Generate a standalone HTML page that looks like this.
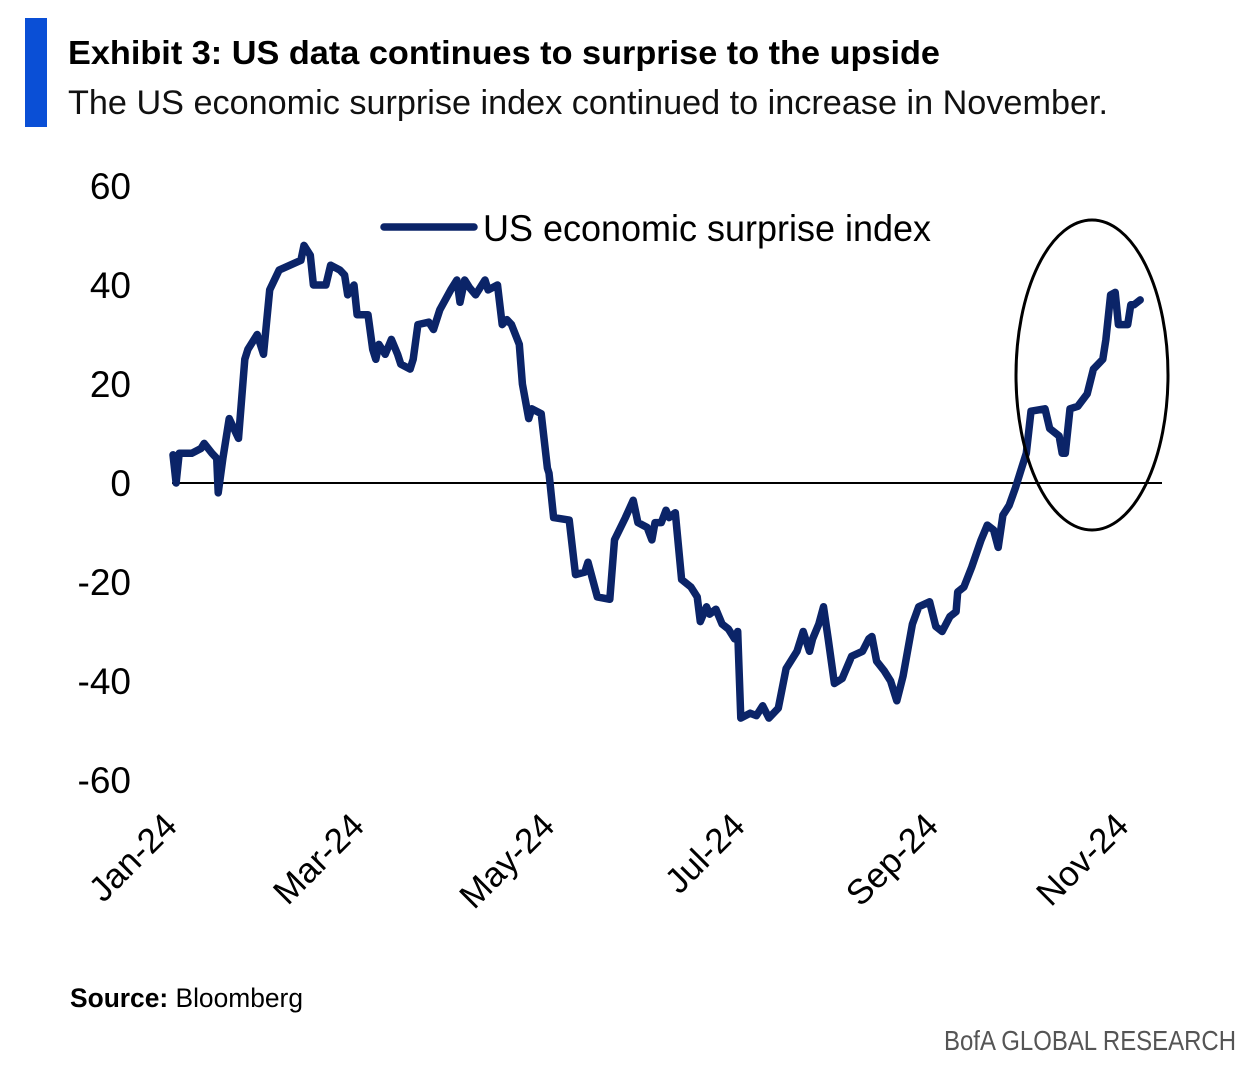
<!DOCTYPE html>
<html><head><meta charset="utf-8"><style>
html,body{margin:0;padding:0;background:#fff;}
svg{display:block;font-family:"Liberation Sans",sans-serif;}
</style></head><body>
<svg id="chart" width="1256" height="1066" viewBox="0 0 1256 1066">
<rect x="25" y="18" width="22" height="109" fill="#0a4fd6"/>
<text x="68" y="64" font-size="33" font-weight="bold" textLength="872" lengthAdjust="spacingAndGlyphs" fill="#000">Exhibit 3: US data continues to surprise to the upside</text>
<text x="68" y="114" font-size="34" textLength="1040" lengthAdjust="spacingAndGlyphs" fill="#111">The US economic surprise index continued to increase in November.</text>
<g id="yaxis"></g>
<g id="xaxis"></g>
<line x1="172" y1="483" x2="1162" y2="483" stroke="#000" stroke-width="2"/>
<path id="series" fill="none" stroke="#0b2468" stroke-width="7.5" stroke-linejoin="round" stroke-linecap="round"/>
<ellipse cx="1092" cy="375" rx="76" ry="155" fill="none" stroke="#000" stroke-width="3"/>
<g>
<line x1="384" y1="227" x2="474" y2="227" stroke="#0b2468" stroke-width="7.5" stroke-linecap="round"/>
<text x="483" y="241" font-size="37" textLength="448" lengthAdjust="spacingAndGlyphs">US economic surprise index</text>
</g>
<text x="70" y="1007" font-size="27" textLength="233" lengthAdjust="spacingAndGlyphs"><tspan font-weight="bold">Source:</tspan> Bloomberg</text>
<text x="1236" y="1050" font-size="28" text-anchor="end" fill="#555" textLength="292" lengthAdjust="spacingAndGlyphs">BofA GLOBAL RESEARCH</text>
</svg>
<script>
const yTicks=[60,40,20,0,-20,-40,-60];
const xTickLabels=["Jan-24","Mar-24","May-24","Jul-24","Sep-24","Nov-24"];
const xTickDays=[0,60,121,182,244,305];
const days=[0,1,2,6,9,10,12.5,14,14.5,16,18,21,23,24,27,29,31,34,37.5,41,42,44,45,49,50.5,53.5,55,56,58,59,62.5,64,65,66,68,70,72,73,76,77,78.5,82,83.5,85.5,89,91,92,93.5,95,97,100,101,104,105.5,107,108.5,111,112,114,115,118,120,120.5,122,127,129,132,133,136,140,141.5,145,147.5,149,152,153.5,154.5,156.5,158,159,161,163,166,168,169,171,172,174,176,178,180,181,182,185,187,189,191,194,196.5,200,202,204,205,207,208.5,210,212,214.5,217.5,221,223,224,225.5,228,230,232,234,237,239,242.5,244.5,246.5,249,251,251.5,253.5,256,259,261,263,264.5,266,268,270,272,273.5,275,279.5,281,284,285,286,287.5,290,293,295,298,299,300.5,302,303,306,307,308,310];
const values=[5.7,0,6,6,7,8,6,5,-2,5,13,9,25,27,30,26,39,43,44,45,48,46,40,40,44,43,42,38,40,34,34,27,25,28,26,29,26,24,23,25,32,32.5,31,35,39,41,36.5,41,39.5,38,41,39,40,32,33,32,28,20,13,15,14,3,2,-7,-7.5,-18.5,-18,-16,-23,-23.5,-11.5,-7,-3.5,-8,-9,-11.5,-8,-8,-5.5,-7,-6,-19.5,-21,-23,-28,-25,-26.5,-25.5,-28.5,-29.5,-31.5,-30,-47.5,-46.5,-47,-45,-47.5,-45.5,-37.5,-34,-30,-34,-31.5,-28.5,-25,-31.5,-40.5,-39.5,-35,-34,-31.5,-31,-36,-38,-40,-44,-39,-28.5,-25,-24,-29,-30,-27,-26,-22,-21,-17,-11.5,-8.5,-9.5,-13,-6.5,-4.5,-1,3,6,14.5,15,11,9.5,6,6,15,15.5,18,23,25,29,38,38.5,32,32,36,36,37];
const NS="http://www.w3.org/2000/svg";
const xS=d=>173+d*3.12;
const yS=v=>483-v*4.95;
const ya=document.getElementById('yaxis');
yTicks.forEach(t=>{
  const el=document.createElementNS(NS,'text');
  el.setAttribute('x',131);el.setAttribute('y',yS(t)+13);
  el.setAttribute('text-anchor','end');el.setAttribute('font-size','37');
  el.textContent=String(t);
  
  
  ya.appendChild(el);
});
const xa=document.getElementById('xaxis');
xTickLabels.forEach((l,i)=>{
  const x=xS(xTickDays[i])+6,y=828;
  const el=document.createElementNS(NS,'text');
  el.setAttribute('x',x);el.setAttribute('y',y);
  el.setAttribute('text-anchor','end');el.setAttribute('font-size','35');
  el.setAttribute('transform','rotate(-45 '+x+' '+y+')');
  el.textContent=l;
  
  
  xa.appendChild(el);
});
document.getElementById('series').setAttribute('d',days.map((d,i)=>(i?'L':'M')+xS(d).toFixed(1)+' '+yS(values[i]).toFixed(1)).join(' '));
</script>
</body></html>
